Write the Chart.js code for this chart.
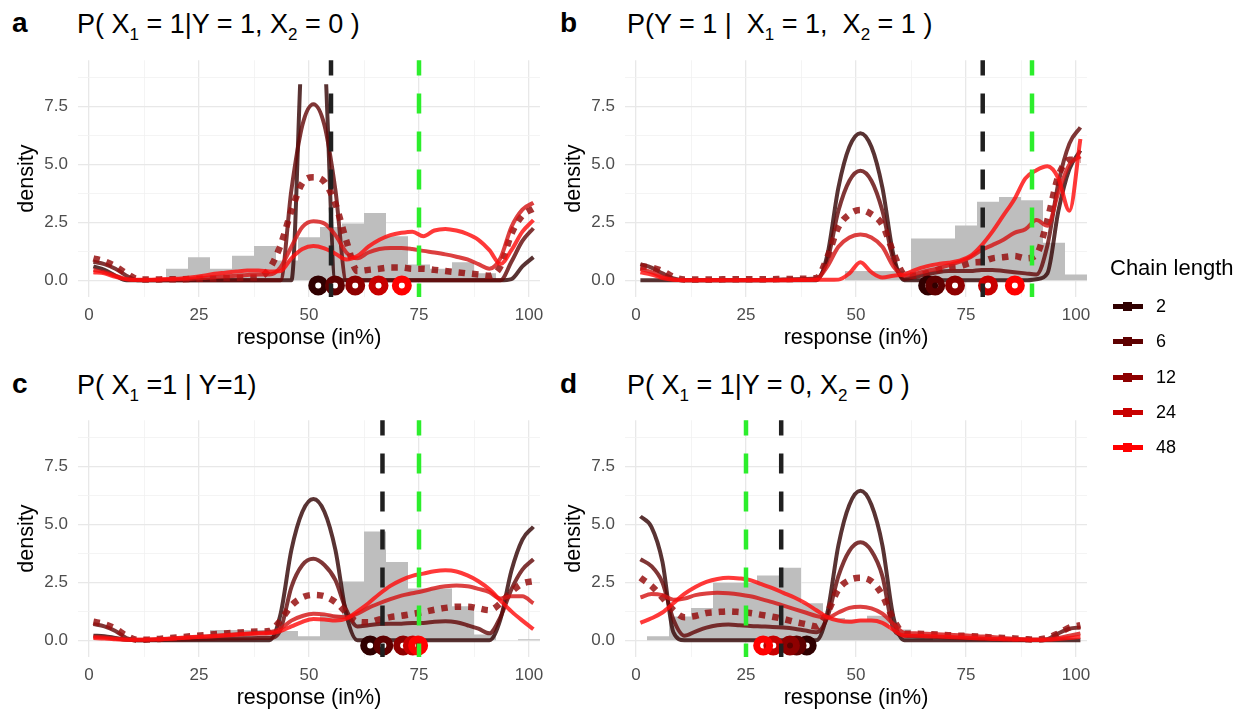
<!DOCTYPE html>
<html><head><meta charset="utf-8">
<script src="https://cdn.jsdelivr.net/npm/chart.js@4.4.1/dist/chart.umd.min.js"></script>
<style>
body{margin:0;background:#fff;width:1247px;height:715px;position:relative;overflow:hidden;font-family:"Liberation Sans",Arial,sans-serif;color:#000;}
canvas{position:absolute;}
.tag{position:absolute;font-weight:bold;font-size:28px;line-height:30px;}
.ttl{position:absolute;font-size:27px;line-height:30px;white-space:pre;}
.ttl sub{font-size:17px;vertical-align:-7px;line-height:0;}
#legend{position:absolute;left:1110px;top:255px;}
#legend .lt{font-size:22px;line-height:26px;margin-bottom:17px;}
#legend .row{position:relative;height:35.3px;}
#legend .key{position:absolute;left:3px;top:6px;width:30px;height:5px;}
#legend .dot{position:absolute;left:13px;top:4px;width:9px;height:9px;}
#legend .lab{position:absolute;left:46px;top:-2px;font-size:18px;line-height:20px;}
</style></head><body>
<div class="tag" style="left:12px;top:8px">a</div>
<div class="ttl" style="left:77px;top:9px">P( X<sub>1</sub> = 1|Y = 1, X<sub>2</sub> = 0 )</div>
<div class="tag" style="left:560px;top:8px">b</div>
<div class="ttl" style="left:627px;top:9px">P(Y = 1 |  X<sub>1</sub> = 1,  X<sub>2</sub> = 1 )</div>
<div class="tag" style="left:12px;top:369px">c</div>
<div class="ttl" style="left:77px;top:370px">P( X<sub>1</sub> =1 | Y=1)</div>
<div class="tag" style="left:560px;top:369px">d</div>
<div class="ttl" style="left:627px;top:370px">P( X<sub>1</sub> = 1|Y = 0, X<sub>2</sub> = 0 )</div>
<canvas id="ca" width="560" height="320" style="left:0px;top:40px"></canvas>
<canvas id="cb" width="560" height="320" style="left:560px;top:40px"></canvas>
<canvas id="cc" width="560" height="320" style="left:0px;top:400px"></canvas>
<canvas id="cd" width="560" height="320" style="left:560px;top:400px"></canvas>
<div id="legend"><div class="lt">Chain length</div></div>
<script>
// ---------- data ----------
const CHAINS = ['2', '6', '12', '24', '48'];
const X = [1,3.5,6,8.5,11,13.5,16,18.5,21,23.5,26,28.5,31,33.5,36,38.5,41,43.5,46,48.5,51,53.5,56,58.5,61,63.5,66,68.5,71,73.5,76,78.5,81,83.5,86,88.5,91,93.5,96,98.5,101];

// panel a: P(X1=1|Y=1,X2=0)
const A_2  = [0.6,0.45,0.2,0,0,0,0,0,0,0, 0,0,0,0,0,0,0,0,0,10.6, 14,10,0,0,0,0,0,0,0,0, 0,0,0,0,0,0,0,0,0.05,0.6, 1.0];
const A_6  = [0.8,0.7,0.5,0.2,0,0,0,0,0,0, 0,0,0,0,0,0,0,0,3.9,6.7, 7.6,6.7,3.9,0,0,0,0,0,0,0, 0,0,0,0,0,0,0,0,0.8,1.7, 2.25];
const A_12 = [0.95,0.82,0.6,0.3,0.05,0.03,0.04,0.05,0.05,0.06, 0.07,0.08,0.1,0.11,0.12,0.13,0.5,1.5,3.0,4.2, 4.45,4.25,3.3,1.7,0.4,0.45,0.5,0.55,0.55,0.5, 0.5,0.45,0.4,0.35,0.3,0.25,0.2,0.6,2.0,2.8, 3.1];
const A_24 = [0.45,0.35,0.2,0.05,0.01,0.01,0.02,0.03,0.05,0.07, 0.1,0.13,0.17,0.2,0.23,0.25,0.25,0.55,1.45,2.3, 2.55,2.45,1.95,1.2,0.95,1.2,1.35,1.4,1.4,1.35, 1.27,1.2,1.12,1.02,0.9,0.7,0.5,0.95,2.3,3.05, 3.35];
const A_48 = [0.35,0.3,0.15,0.05,0.02,0.02,0.04,0.06,0.08,0.13, 0.2,0.28,0.33,0.38,0.42,0.42,0.38,0.4,0.95,1.35, 1.48,1.38,1.15,0.9,1.05,1.45,1.75,1.95,2.05,2.1, 1.9,2.15,2.22,2.15,2.0,1.75,1.3,0.7,1.3,2.1, 2.6];

// panel b: P(Y=1|X1=1,X2=1)
const B_2  = [0,0,0,0,0,0,0,0,0,0, 0,0,0,0,0,0,0,1.1,4.0,5.76, 6.35,5.76,4.0,1.1,0,0,0,0,0,0, 0,0,0,0,0,0,0.05,0.3,3.0,4.8, 5.6];
const B_6  = [0.7,0.55,0.3,0.08,0,0,0,0,0,0, 0,0,0.02,0.03,0.05,0.06,0.08,0.87,3.0,4.3, 4.73,4.3,3.0,0.87,0.05,0.15,0.25,0.35,0.4,0.4, 0.4,0.45,0.45,0.4,0.35,0.3,0.25,1.5,4.2,5.9, 6.6];
const B_12 = [0.6,0.55,0.4,0.15,0.03,0.03,0.04,0.04,0.05,0.05, 0.05,0.05,0.05,0.06,0.06,0.07,0.1,1.0,2.3,2.85, 3.04,2.85,2.4,1.2,0.25,0.2,0.3,0.45,0.55,0.6, 0.75,0.8,0.95,1.0,1.05,0.95,1.1,2.6,4.5,5.2, 5.2];
const B_24 = [0.5,0.35,0.15,0.03,0.01,0.01,0.01,0.01,0.01,0.01, 0.01,0.01,0.01,0.02,0.02,0.03,0.05,0.6,1.45,1.85, 1.98,1.85,1.45,0.6,0.2,0.28,0.4,0.5,0.65,0.8, 1.0,1.3,1.52,1.75,2.05,2.2,2.6,2.35,3.8,5.0, 5.35];
const B_48 = [0.35,0.25,0.1,0.02,0,0,0,0,0,0, 0,0,0,0,0.01,0.01,0.02,0.02,0.03,0.3, 0.78,0.35,0.12,0.2,0.25,0.45,0.6,0.7,0.76,0.85, 1.05,1.5,2.1,2.8,3.5,4.4,4.75,4.92,4.4,3.0, 6.1];

// panel c: P(X1=1|Y=1)
const C_2  = [0.2,0.18,0.1,0.02,0,0,0,0,0,0, 0,0,0,0,0,0,0,1.1,3.9,5.55, 6.1,5.55,3.9,1.1,0,0,0,0,0,0, 0,0,0,0,0,0,0,0.9,3.0,4.35, 4.9];
const C_6  = [0.7,0.6,0.4,0.1,0,0.01,0.02,0.03,0.04,0.05, 0.06,0.07,0.08,0.08,0.09,0.1,0.1,0.45,2.3,3.25, 3.52,3.25,2.6,1.3,0.6,0.65,0.7,0.72,0.72,0.75, 0.75,0.8,0.82,0.78,0.65,0.5,0.3,1.0,2.2,3.05, 3.5];
const C_12 = [0.8,0.7,0.5,0.2,0.02,0.03,0.06,0.1,0.14,0.18, 0.22,0.26,0.3,0.33,0.36,0.38,0.4,0.85,1.5,1.85, 1.96,1.9,1.65,1.2,0.8,0.78,0.9,1.0,1.06,1.14, 1.22,1.32,1.4,1.45,1.45,1.38,1.3,1.6,2.1,2.45, 2.55];
const C_24 = [0.15,0.12,0.08,0.04,0.02,0.03,0.05,0.08,0.11,0.14, 0.17,0.2,0.23,0.26,0.29,0.32,0.35,0.5,0.85,1.05, 1.15,1.12,1.03,1.0,1.15,1.4,1.6,1.78,1.93,2.03, 2.13,2.25,2.33,2.37,2.33,2.22,2.08,1.8,1.9,1.9, 1.6];
const C_48 = [0.1,0.08,0.05,0.02,0.02,0.03,0.05,0.07,0.1,0.13, 0.15,0.18,0.21,0.24,0.27,0.29,0.3,0.4,0.6,0.8, 0.92,0.9,0.85,0.93,1.25,1.6,2.0,2.35,2.6,2.78, 2.88,2.98,3.02,2.97,2.8,2.55,2.2,1.72,1.25,0.85, 0.48];

// panel d: P(X1=1|Y=0,X2=0)
const D_2  = [5.35,4.9,3.4,0.35,0,0,0,0,0,0, 0,0,0,0,0,0,0,1.2,4.1,5.85, 6.45,5.85,4.1,1.0,0,0,0,0,0,0, 0,0,0,0,0,0,0,0,0,0, 0];
const D_6  = [3.5,3.2,2.5,0.9,0.2,0.38,0.55,0.65,0.68,0.65, 0.62,0.6,0.58,0.55,0.5,0.42,0.35,1.0,2.77,3.86, 4.23,3.86,2.77,0.5,0.2,0.18,0.16,0.14,0.12,0.1, 0.08,0.06,0.05,0.04,0.03,0.02,0.02,0.05,0.3,0.5, 0.55];
const D_12 = [2.7,2.35,1.85,1.3,1.0,1.05,1.18,1.22,1.25,1.22, 1.18,1.1,1.02,0.92,0.8,0.7,0.6,1.2,2.2,2.6, 2.7,2.55,1.95,0.9,0.3,0.28,0.27,0.25,0.22,0.2, 0.18,0.15,0.12,0.1,0.08,0.05,0.03,0.1,0.3,0.55, 0.65];
const D_24 = [1.85,2.0,1.95,1.75,1.8,1.95,2.02,2.05,2.03,1.98, 1.9,1.78,1.65,1.5,1.35,1.2,1.05,0.98,1.2,1.4, 1.45,1.38,1.15,0.7,0.32,0.3,0.28,0.26,0.24,0.22, 0.2,0.17,0.14,0.1,0.07,0.04,0.02,0.03,0.1,0.2, 0.3];
const D_48 = [0.75,0.95,1.2,1.6,2.0,2.3,2.52,2.65,2.7,2.67, 2.6,2.42,2.25,2.05,1.85,1.6,1.3,1.0,0.85,0.8, 0.85,0.85,0.75,0.45,0.2,0.2,0.18,0.16,0.14,0.12, 0.1,0.08,0.06,0.05,0.04,0.03,0.02,0.03,0.06,0.1, 0.15];

// histograms of responses (bin centres, width 5)
const HIST_X = [0,5,10,15,20,25,30,35,40,45,50,55,60,65,70,75,80,85,90,95,100];
const H_A = [0,0,0,0,0.5,1.0,0.5,1.06,1.48,0.85,1.86,2.3,2.45,2.9,1.9,0.68,0.5,0.78,0.3,0,0];
const H_B = [0,0,0,0,0,0,0,0,0,0,0.4,0.4,0.4,1.8,1.8,2.37,3.39,3.6,3.46,1.62,0.25];
const H_C = [0,0,0,0,0,0,0.45,0.45,0.45,0.4,0.18,1.1,2.54,4.7,3.38,2.24,2.24,1.47,0.25,0,0.05];
const H_D = [0,0.18,1.03,1.39,2.48,2.48,2.8,3.13,1.6,0.96,0.9,1.06,0.47,0.25,0,0,0,0,0,0,0];

// chain means (order: 2, 6, 12, 24, 48)
const M_A = [52.1, 55.9, 60.5, 65.8, 71.1];
const M_B = [66.4, 68.0, 72.5, 80.0, 86.1];
const M_C = [63.9, 66.9, 71.4, 73.6, 74.8];
const M_D = [38.8, 36.5, 35.0, 31.2, 28.9];

// reference lines: [black, green]
const REF_A = [55.0, 75];
const REF_B = [78.8, 90];
const REF_C = [66.7, 75];
const REF_D = [33.0, 25];

const X_TICKS = [0,12.5,25,37.5,50,62.5,75,87.5,100];
const Y_TICKS = [0,1.25,2.5,3.75,5,6.25,7.5,8.75];

// ---------- styles ----------
const FONT = '"Liberation Sans", Arial, sans-serif';
const LINE_COLORS = ['rgba(52,6,6,0.82)','rgba(100,10,10,0.82)','rgba(150,16,16,0.85)','rgba(212,22,22,0.82)','rgba(255,14,14,0.82)'];
const POINT_COLORS = ['#300000','#5e0000','#8e0000','#c80000','#ff0000'];
const MARK_Y = -0.22;

function panel(id, series, hist, means, refs, opt) {
  const ds = [];
  const hp = HIST_X.map((c, i) => ({x: c - 2.5, y: hist[i]}));
  hp.push({x: HIST_X[HIST_X.length - 1] + 2.5, y: 0});
  ds.push({type: 'line', data: hp, stepped: 'before', fill: 'origin', backgroundColor: '#bebebe',
           borderWidth: 0, pointRadius: 0, order: 20});
  series.forEach((s, k) => {
    const d = {type: 'line', data: X.map((x, i) => ({x: x, y: s[i]})),
      borderColor: LINE_COLORS[k], borderWidth: k === 2 ? 6.5 : 4, pointRadius: 0, fill: false,
      cubicInterpolationMode: 'monotone', borderDash: k === 2 ? [6.5, 7] : [], borderCapStyle: 'butt',
      borderJoinStyle: 'round', order: 10 - k};
    if (k === 0 && opt.clipTop) d.clip = {left: 0, top: opt.clipTop, right: 0, bottom: 0};
    ds.push(d);
  });
  ds.push({type: 'line', showLine: false, data: means.map(m => ({x: m, y: MARK_Y})),
    pointRadius: 6.5, pointBorderWidth: 7, pointBorderColor: POINT_COLORS,
    pointBackgroundColor: 'rgba(0,0,0,0)', pointHoverRadius: 6.5, order: 2});
  ds.push({type: 'line', data: [{x: refs[0], y: -1}, {x: refs[0], y: 10.5}], borderColor: '#202020',
    borderWidth: 4.5, borderDash: [20, 18], pointRadius: 0, order: 1});
  ds.push({type: 'line', data: [{x: refs[1], y: -1}, {x: refs[1], y: 10.5}], borderColor: '#2cee2c',
    borderWidth: 4.5, borderDash: [20, 18], pointRadius: 0, order: 0});

  new Chart(document.getElementById(id), {
    type: 'line',
    data: {datasets: ds},
    options: {
      responsive: false, animation: false, devicePixelRatio: 1,
      layout: {padding: {top: 15, right: opt.right, left: 0, bottom: 0}},
      plugins: {legend: {display: false}, tooltip: {enabled: false}},
      events: [],
      scales: {
        x: {type: 'linear', min: -2.5, max: 102.5,
          afterBuildTicks: s => { s.ticks = X_TICKS.map(v => ({value: v})); },
          afterFit: s => { s.height = 63; },
          border: {display: false},
          grid: {drawTicks: false,
            color: c => (c.tick && c.tick.value % 25 === 0) ? '#e8e8e8' : '#f1f1f1',
            lineWidth: c => (c.tick && c.tick.value % 25 === 0) ? 1.3 : 0.8},
          ticks: {autoSkip: false, maxRotation: 0, padding: 8, color: '#4d4d4d',
            font: {size: 17, family: FONT},
            callback: v => (v % 25 === 0 ? String(v) : '')},
          title: {display: true, text: 'response (in%)', color: '#000',
            font: {size: 21.5, family: FONT}, padding: {top: 0, bottom: 9}}
        },
        y: {type: 'linear', min: -0.72, max: 9.5,
          afterBuildTicks: s => { s.ticks = Y_TICKS.map(v => ({value: v})); },
          afterFit: s => { s.width = opt.yw; },
          border: {display: false},
          grid: {drawTicks: false,
            color: c => (c.tick && c.tick.value % 2.5 === 0) ? '#e8e8e8' : '#f1f1f1',
            lineWidth: c => (c.tick && c.tick.value % 2.5 === 0) ? 1.3 : 0.8},
          ticks: {autoSkip: false, padding: 10, color: '#4d4d4d', font: {size: 17, family: FONT},
            callback: v => (v % 2.5 === 0 ? v.toFixed(1) : '')},
          title: {display: true, text: 'density', color: '#000',
            font: {size: 21.5, family: FONT}, padding: {top: opt.tp, bottom: 0}}
        }
      }
    }
  });
}

panel('ca', [A_2, A_6, A_12, A_24, A_48], H_A, M_A, REF_A, {right: 20, yw: 78, tp: 14, clipTop: -24});
panel('cb', [B_2, B_6, B_12, B_24, B_48], H_B, M_B, REF_B, {right: 33, yw: 65, tp: 1});
panel('cc', [C_2, C_6, C_12, C_24, C_48], H_C, M_C, REF_C, {right: 20, yw: 78, tp: 14});
panel('cd', [D_2, D_6, D_12, D_24, D_48], H_D, M_D, REF_D, {right: 33, yw: 65, tp: 1});

// legend
const lg = document.getElementById('legend');
CHAINS.forEach((c, k) => {
  const r = document.createElement('div'); r.className = 'row';
  const key = document.createElement('div'); key.className = 'key'; key.style.background = POINT_COLORS[k];
  const dot = document.createElement('div'); dot.className = 'dot'; dot.style.background = POINT_COLORS[k];
  const lab = document.createElement('div'); lab.className = 'lab'; lab.textContent = c;
  r.appendChild(key); r.appendChild(dot); r.appendChild(lab); lg.appendChild(r);
});
</script>
</body></html>
